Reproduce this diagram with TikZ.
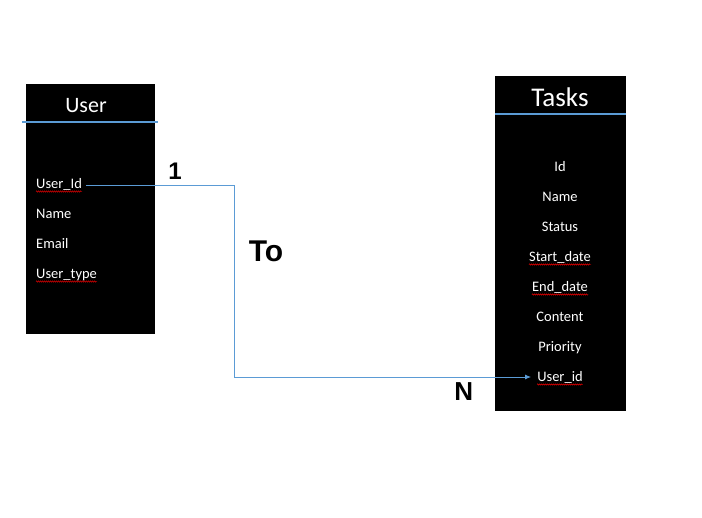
\documentclass[tikz,border=0pt]{standalone}
\usepackage{fontspec}
\setmainfont{Carlito}
\newfontfamily\arialfont{Liberation Sans}
\usetikzlibrary{arrows.meta,decorations.pathmorphing}
\definecolor{officeblue}{HTML}{5B9BD5}
\tikzset{
  tablebox/.style={fill=black,draw=none},
  sepline/.style={draw=officeblue,line width=1.2pt},
  item/.style={text=white,inner sep=0pt,font=\fontsize{14.5}{16}\selectfont},
  title/.style={text=white,inner sep=0pt,anchor=base},
  card/.style={inner sep=0pt,anchor=base,font=\arialfont\bfseries},
  link/.style={draw=officeblue,line width=0.9pt},
  squiggle/.style={draw=red,line width=0.4pt,decorate,decoration={snake,amplitude=0.7pt,segment length=2pt}}
}
\begin{document}
\begin{tikzpicture}[x=1pt,y=-1pt]
\useasboundingbox (0,0) rectangle (702,518);
% User table
\path[tablebox] (26,84) rectangle (155,334);
\node[title,font=\fontsize{22}{24}\selectfont] (usertitle) at (86,112.7) {User};
\draw[sepline] (22,122) -- (158,122);
\node[item,anchor=base west] (uid) at (36,189) {User\_Id};
\node[item,anchor=base west] (uname) at (36,219) {Name};
\node[item,anchor=base west] (uemail) at (36,249) {Email};
\node[item,anchor=base west] (utype) at (36,279) {User\_type};
% Tasks table
\path[tablebox] (495,76) rectangle (626,411);
\node[title,font=\fontsize{27}{29}\selectfont] (taskstitle) at (560,107) {Tasks};
\draw[sepline] (495,114) -- (626,114);
\node[item,anchor=base] (tid) at (560,172) {Id};
\node[item,anchor=base] (tname) at (560,202) {Name};
\node[item,anchor=base] (tstatus) at (560,232) {Status};
\node[item,anchor=base] (tstart) at (560,262) {Start\_date};
\node[item,anchor=base] (tend) at (560,292) {End\_date};
\node[item,anchor=base] (tcontent) at (560,322) {Content};
\node[item,anchor=base] (tprio) at (560,352) {Priority};
\node[item,anchor=base] (tuid) at (560,382) {User\_id};
% spell-check squiggles
\foreach \n in {uid,utype,tstart,tend,tuid}
  \draw[squiggle] ([yshift=-2.5pt]\n.base west) -- ([yshift=-2.5pt]\n.base east);
% connector
\coordinate (bend) at (234,0);
\draw[link,-{Latex[length=6pt,width=5pt]}] ([xshift=4pt,yshift=4pt]uid.base east) -- ([yshift=4pt]bend|-uid.base east) |- ([xshift=-6pt,yshift=5pt]tuid.base west);
% cardinality labels
\node[card,font=\arialfont\bfseries\fontsize{24}{26}\selectfont] (one) at (175,180) {1};
\node[card,font=\arialfont\bfseries\fontsize{30}{32}\selectfont] (to) at (266,261.7) {To};
\node[card,font=\arialfont\bfseries\fontsize{26}{28}\selectfont] (many) at (463.7,400.7) {N};
\end{tikzpicture}
\end{document}
